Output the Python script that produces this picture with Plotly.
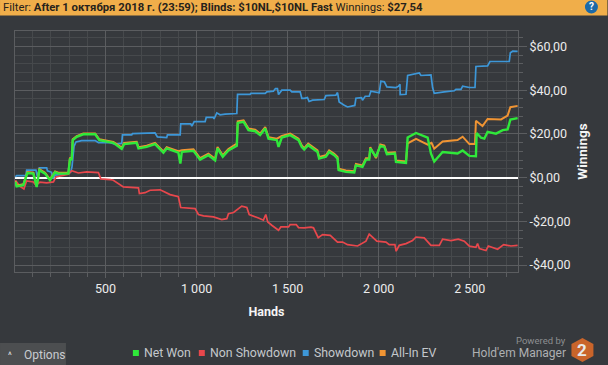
import plotly.graph_objects as go

showdown_x = [5,12,63,67,118,126,137,177,181,204,210,223,296,309,316,327,338,369,443,461,525,552,589,593,644,648,772,785,836,840,910,913,968,974,987,1047,1053,1093,1096,1111,1129,1157,1221,1225,1294,1298,1377,1386,1422,1433,1444,1450,1468,1514,1523,1569,1578,1591,1609,1618,1637,1701,1710,1765,1774,1783,1811,1829,1869,1875,1906,1911,1926,1948,1957,2003,2012,2031,2045,2095,2109,2117,2118,2150,2159,2223,2232,2287,2296,2305,2360,2415,2424,2452,2461,2498,2529,2534,2598,2611,2717,2723,2736,2763]
showdown_y = [0.3,0.9,0.9,3.4,3.4,0.3,4.4,4.4,3.1,2.4,-0.5,1.1,1.8,2.6,4.9,14.3,16.3,16.9,16.9,16.0,16.0,15.3,15.6,19.5,19.5,20.1,20.4,18.6,18.3,19.5,19.5,24.6,24.6,23.5,25.6,25.6,27.5,27.5,26.8,29.6,28.7,29.0,29.3,38.1,38.1,38.5,38.5,39.2,39.5,40.7,40.7,38.0,40.0,40.0,39.2,39.2,36.2,36.2,36.6,34.8,35.4,35.7,37.5,37.7,38.9,34.6,33.1,32.3,33.0,36.3,36.6,35.4,37.2,37.2,39.5,38.8,44.1,43.8,41.5,41.2,41.8,42.7,38.0,38.1,46.7,47.9,46.7,47.0,41.2,38.5,39.2,39.7,40.4,40.3,41.8,41.2,41.2,50.8,51.1,53.1,53.1,57.1,57.8,57.7]

nonshow_x = [5,30,52,67,104,118,140,177,214,228,296,314,351,397,461,474,525,543,598,681,686,717,745,800,855,900,913,992,1010,1038,1093,1138,1166,1175,1203,1248,1276,1289,1340,1367,1380,1391,1413,1450,1463,1505,1514,1547,1560,1591,1628,1642,1668,1692,1734,1774,1802,1829,1884,1911,1930,1948,1966,1990,2040,2058,2089,2096,2113,2150,2186,2205,2250,2287,2333,2351,2397,2437,2470,2498,2534,2543,2553,2589,2602,2653,2686,2726,2763]
nonshow_y = [-1.2,-4.0,-5.2,-1.5,-2.0,-3.5,-2.1,-2.4,-2.0,0.3,1.5,3.1,2.1,2.6,2.3,-0.6,-0.9,-1.2,-4.3,-4.7,-7.3,-6.9,-5.8,-5.6,-7.8,-8.8,-13.7,-14.2,-16.9,-17.5,-18.0,-19.2,-18.8,-16.5,-16.0,-13.1,-13.7,-16.9,-18.5,-19.5,-16.9,-20.3,-21.8,-24.1,-22.6,-22.6,-21.5,-21.5,-22.9,-23.0,-22.7,-23.0,-27.5,-26.1,-26.4,-29.5,-29.5,-30.7,-31.3,-30.2,-29.1,-25.9,-27.2,-29.1,-29.5,-30.7,-30.7,-33.7,-31.0,-30.2,-28.8,-27.2,-27.6,-31.0,-31.0,-28.2,-28.8,-28.2,-29.1,-31.4,-31.9,-30.2,-32.5,-33.4,-31.3,-32.8,-30.7,-31.3,-31.0]

netwon_x = [5,12,49,63,71,104,122,137,168,195,223,241,296,305,314,320,342,378,443,466,543,589,602,671,681,726,772,818,836,900,911,919,983,1019,1065,1102,1115,1144,1175,1221,1226,1258,1285,1322,1349,1377,1395,1441,1450,1468,1514,1560,1578,1591,1613,1664,1673,1710,1728,1756,1774,1780,1820,1866,1875,1911,1930,1948,1954,1985,2009,2031,2045,2089,2095,2150,2159,2205,2269,2287,2305,2351,2433,2461,2498,2534,2538,2562,2580,2598,2644,2681,2708,2723,2763]
netwon_y = [-2.0,-4.0,-3.5,0.3,2.1,1.8,-4.3,3.4,1.8,-1.2,2.4,1.8,1.8,8.7,7.9,17.1,18.6,19.8,19.8,17.1,15.9,13.1,15.3,15.9,13.3,14.0,15.3,11.4,13.3,11.4,6.4,11.8,12.2,8.2,10.2,7.9,13.3,9.5,12.4,14.5,25.0,25.5,21.7,21.2,19.4,22.4,17.8,17.1,14.0,18.3,19.4,17.1,14.0,12.8,14.8,11.7,8.7,9.5,11.7,10.2,8.7,3.4,2.6,2.3,5.6,4.9,8.2,8.2,13.3,9.5,14.5,14.0,10.7,11.0,7.2,6.7,18.3,20.4,18.3,11.0,7.3,11.7,11.0,12.4,9.9,9.8,20.4,18.2,17.8,20.9,20.1,21.7,22.0,26.5,27.2]

allin_x = [5,12,49,63,71,104,122,137,168,195,223,241,296,305,314,320,342,378,443,466,543,589,602,671,681,726,772,818,836,900,919,983,1019,1065,1102,1115,1144,1175,1221,1226,1258,1285,1322,1349,1377,1395,1441,1468,1514,1560,1578,1591,1613,1664,1673,1710,1728,1756,1774,1780,1820,1866,1875,1911,1930,1948,1954,1985,2009,2031,2045,2089,2095,2150,2159,2205,2269,2290,2305,2351,2433,2461,2498,2529,2534,2570,2598,2672,2708,2723,2763]
allin_y = [-1.6,-3.6,-3.1,0.7,2.5,2.2,-3.9,3.8,2.2,-0.8,2.8,2.2,2.2,9.1,8.3,17.5,19.0,20.2,20.2,17.5,16.3,13.7,15.8,16.4,13.9,14.6,15.9,12.0,13.9,12.1,12.5,12.9,8.9,10.9,8.6,14.0,10.2,13.1,15.6,25.7,26.2,22.4,21.9,20.1,23.1,18.5,17.8,19.0,20.1,17.8,14.7,13.5,15.5,12.4,9.4,10.2,12.4,10.9,9.4,4.1,3.2,2.9,6.2,5.5,8.8,8.8,13.9,8.9,15.1,14.6,11.3,11.6,7.8,7.3,15.6,17.7,15.1,15.9,13.2,16.5,17.2,18.7,15.3,15.3,26.0,23.6,26.8,26.6,28.4,32.2,32.8]

series_names = ["Net Won", "Non Showdown", "Showdown", "All-In EV"]
series_colors = ["#2fe83a", "#e8474c", "#3d97d8", "#f09433"]

x_major = [500, 1000, 1500, 2000, 2500]
x_labels = ["500", "1 000", "1 500", "2 000", "2 500"]
x_minor = [100,200,300,400,600,700,800,900,1100,1200,1300,1400,1600,1700,1800,1900,2100,2200,2300,2400,2600,2700]
y_major = [-40, -20, 0, 20, 40, 60]
y_labels = ["-$40,00", "-$20,00", "$0,00", "$20,00", "$40,00", "$60,00"]
y_minor = [-36,-32,-28,-24,-16,-12,-8,-4,4,8,12,16,24,28,32,36,44,48,52,56,64]

L, R, T, B = 15, 518.5, 31, 272
W, H = 608, 365
def px(x): return (x - L) / (R - L)
def py(y): return (B - y) / (B - T)

FONT = "Roboto"
fig = go.Figure()
fig.add_trace(go.Scatter(x=showdown_x, y=showdown_y, name=series_names[2], mode="lines", line=dict(color=series_colors[2], width=1.7)))
fig.add_trace(go.Scatter(x=nonshow_x, y=nonshow_y, name=series_names[1], mode="lines", line=dict(color=series_colors[1], width=1.7)))
fig.add_trace(go.Scatter(x=allin_x, y=allin_y, name=series_names[3], mode="lines", line=dict(color=series_colors[3], width=2)))
fig.add_trace(go.Scatter(x=netwon_x, y=netwon_y, name=series_names[0], mode="lines", line=dict(color=series_colors[0], width=2.4)))

grid = "#46494c"
major = "#5b5d60"
fig.update_layout(
    width=W, height=H, autosize=False, showlegend=False,
    margin=dict(l=L, r=W - R, t=T, b=H - B),
    paper_bgcolor="#36393d", plot_bgcolor="#36393d",
    font=dict(family=FONT, size=12, color="#ececec"),
    xaxis=dict(
        range=[3, 2765], tickmode="array", tickvals=x_major, ticktext=x_labels,
        showgrid=True, gridcolor=major, gridwidth=1, zeroline=False,
        ticks="outside", ticklen=5, tickcolor=major, showline=True, linecolor=major, linewidth=1, mirror=True,
        minor=dict(tickmode="array", tickvals=x_minor, showgrid=True, gridcolor=grid, gridwidth=1, ticks="outside", ticklen=4, tickcolor=major),
        tickfont=dict(size=12.5, color="#ececec"),
        title=dict(text="<b>Hands</b>", font=dict(size=12.5, color="#f5f5f5"), standoff=12),
    ),
    yaxis=dict(
        side="right", range=[-43.2, 67.05], tickmode="array", tickvals=y_major, ticktext=y_labels,
        showgrid=True, gridcolor=major, gridwidth=1,
        zeroline=True, zerolinecolor="#ffffff", zerolinewidth=2.4,
        ticks="outside", ticklen=8, tickcolor=major, showline=True, linecolor=major, linewidth=1, mirror=True,
        minor=dict(tickmode="array", tickvals=y_minor, showgrid=True, gridcolor=grid, gridwidth=1, ticks="outside", ticklen=4, tickcolor=major),
        tickfont=dict(size=12.5, color="#ececec"),
        title=dict(text="<b>Winnings</b>", font=dict(size=13.5, color="#f5f5f5"), standoff=8),
    ),
)

def rect(x0, y0, x1, y1, color):
    fig.add_shape(type="rect", xref="paper", yref="paper", x0=px(x0), x1=px(x1), y0=py(y0), y1=py(y1),
                  fillcolor=color, line=dict(width=0), layer="above")

def label(x, y, text, color="#d9dadb", size=12, anchor="left"):
    fig.add_annotation(xref="paper", yref="paper", x=px(x), y=py(y), text=text, showarrow=False,
                       xanchor=anchor, yanchor="middle", font=dict(family=FONT, size=size, color=color),
                       borderpad=0, borderwidth=0)

# header bar
rect(0, 0, W, 15.5, "#f0ae4a")
label(3, 7.5, "Filter: <b>After 1 октября 2018 г. (23:59); Blinds: $10NL,$10NL Fast</b> Winnings: <b>$27,54</b>", color="#26221c", size=11.3)
fig.add_shape(type="circle", xref="paper", yref="paper", x0=px(585.5), x1=px(598.5), y0=py(13.5), y1=py(0.5),
              fillcolor="#1c6aa8", line=dict(width=0), layer="above")
label(592, 7, "<b>?</b>", color="#ffffff", size=10, anchor="center")

# options button
rect(0, 343, 66, 365, "#4c4e50")
label(10, 355, "^", color="#e0e0e0", size=9, anchor="center")
label(24, 355, "Options", color="#c9ccd0", size=12)

# legend
legend_items = [(133, 144), (199, 210), (303, 314), (380, 391)]
for (sq, tx), name, col in zip(legend_items, series_names, series_colors):
    rect(sq, 350, sq + 6, 356, col)
    label(tx, 353, name, color="#c4c8cc", size=12.3)

# logo
label(567, 341, "Powered by", color="#8d8f91", size=9.5, anchor="right")
label(567, 353, "Hold'em Manager", color="#aeb0b2", size=12, anchor="right")
hexa = [(583, 338), (594, 344), (594, 356), (583, 362), (572, 356), (572, 344)]
path = "M " + " L ".join(f"{px(a):.5f},{py(b):.5f}" for a, b in hexa) + " Z"
fig.add_shape(type="path", xref="paper", yref="paper", path=path, fillcolor="#c9642a", line=dict(width=0), layer="above")
label(583, 350, "<b>2</b>", color="#e8e8e8", size=17, anchor="center")

fig.write_html("out.html", config={"displayModeBar": False},
               post_script="document.body.style.margin='0';document.documentElement.style.background='#36393d';")
